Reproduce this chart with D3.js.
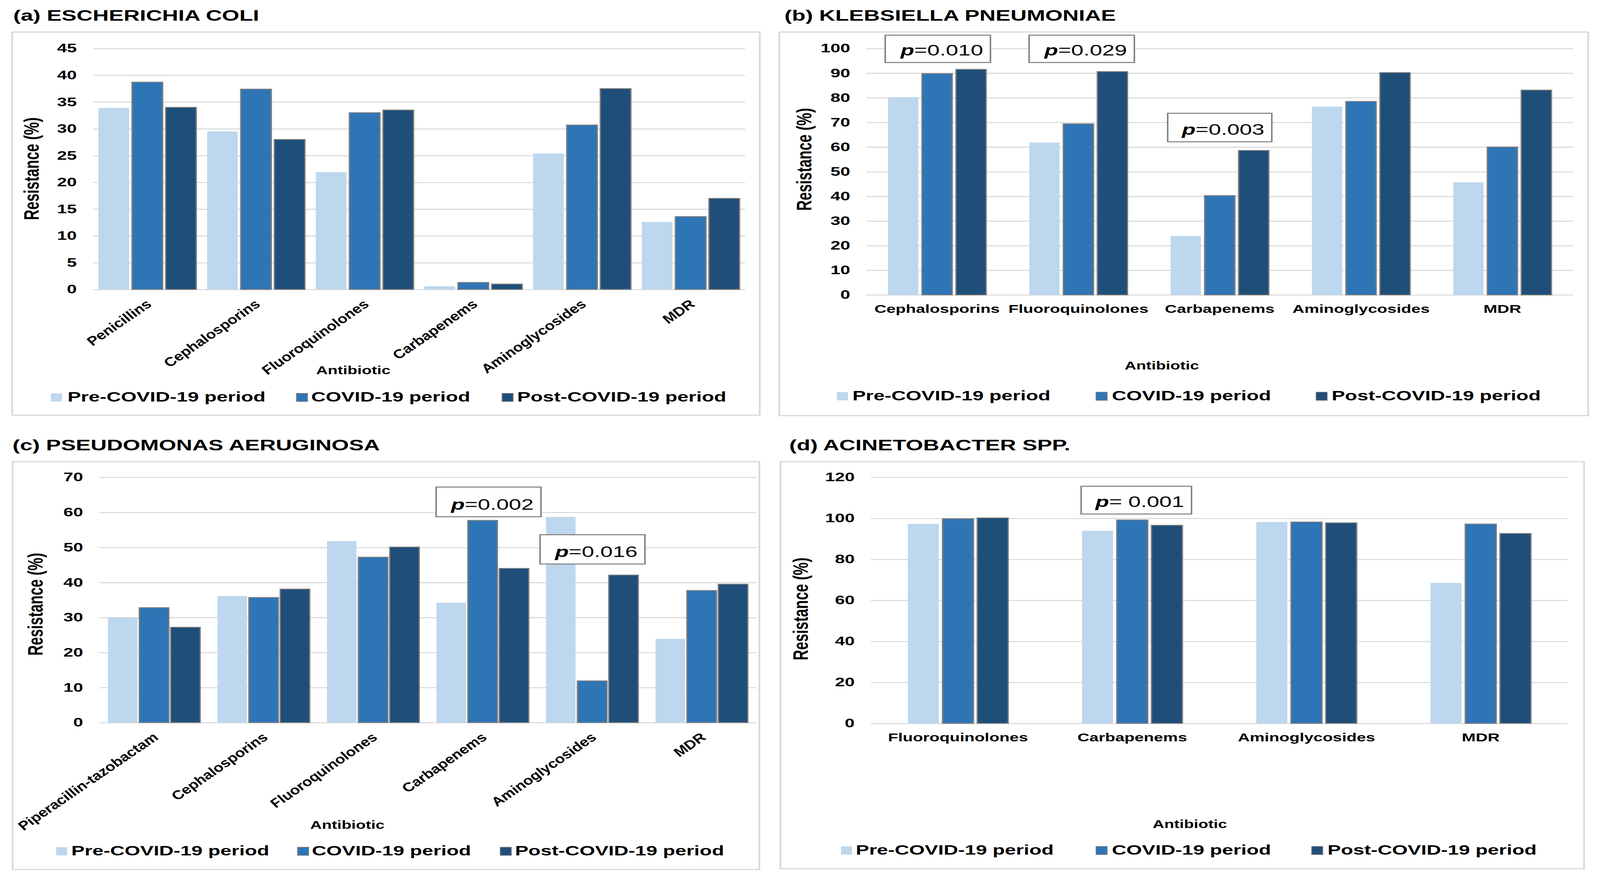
<!DOCTYPE html>
<html>
<head>
<meta charset="utf-8">
<script src="https://cdn.jsdelivr.net/npm/d3@7"></script>
<style>
html,body{margin:0;padding:0;background:#ffffff;width:100%;height:100%;overflow:hidden;}
svg{display:block;width:100vw;height:100vh;}
text{font-family:"Liberation Sans",Arial,Helvetica,sans-serif;}
</style>
</head>
<body>
<svg id="chart" viewBox="0 0 4334 2253" preserveAspectRatio="none"></svg>
<script>
// ---------------- DATA ----------------
const seriesNames = ["Pre-COVID-19 period", "COVID-19 period", "Post-COVID-19 period"];
const seriesColors = ["#bdd7ee", "#2e75b6", "#1f4e79"];

// (a) Escherichia coli
const ecoliCategories = ["Penicillins", "Cephalosporins", "Fluoroquinolones", "Carbapenems", "Aminoglycosides", "MDR"];
const ecoliPre   = [33.9, 29.5, 21.9, 0.6, 25.4, 12.6];
const ecoliCovid = [38.7, 37.4, 33.0, 1.3, 30.7, 13.6];
const ecoliPost  = [34.0, 28.0, 33.5, 1.0, 37.5, 17.0];
const ecoliTicks = [0, 5, 10, 15, 20, 25, 30, 35, 40, 45];

// (b) Klebsiella pneumoniae
const kpCategories = ["Cephalosporins", "Fluoroquinolones", "Carbapenems", "Aminoglycosides", "MDR"];
const kpPre   = [80.2, 61.8, 23.9, 76.4, 45.7];
const kpCovid = [89.8, 69.4, 40.3, 78.5, 60.0];
const kpPost  = [91.5, 90.6, 58.6, 90.2, 83.1];
const kpTicks = [0, 10, 20, 30, 40, 50, 60, 70, 80, 90, 100];
const kpPValues = [
  {category: "Cephalosporins", p: "0.010"},
  {category: "Fluoroquinolones", p: "0.029"},
  {category: "Carbapenems", p: "0.003"}
];

// (c) Pseudomonas aeruginosa
const paCategories = ["Piperacillin-tazobactam", "Cephalosporins", "Fluoroquinolones", "Carbapenems", "Aminoglycosides", "MDR"];
const paPre   = [29.9, 36.1, 51.8, 34.2, 58.7, 23.9];
const paCovid = [32.8, 35.7, 47.2, 57.7, 11.9, 37.7];
const paPost  = [27.2, 38.1, 50.1, 44.0, 42.1, 39.5];
const paTicks = [0, 10, 20, 30, 40, 50, 60, 70];
const paPValues = [
  {category: "Carbapenems", p: "0.002"},
  {category: "Aminoglycosides", p: "0.016"}
];

// (d) Acinetobacter spp.
const abCategories = ["Fluoroquinolones", "Carbapenems", "Aminoglycosides", "MDR"];
const abPre   = [97.3, 93.9, 98.2, 68.5];
const abCovid = [99.8, 99.2, 98.2, 97.2];
const abPost  = [100.2, 96.6, 97.8, 92.6];
const abTicks = [0, 20, 40, 60, 80, 100, 120];
const abPValues = [
  {category: "Carbapenems", p: " 0.001"}
];

// ---------------- LAYOUT (pixels of the final picture) ----------------
const SX = 1.55;               // the figure is stretched horizontally
const X = v => v / SX;

const panels = [
  {
    title: "(a) ESCHERICHIA COLI", titleX: 36, titleY: 53,
    frame: [33, 82, 2058, 1063],
    categories: ecoliCategories, series: [ecoliPre, ecoliCovid, ecoliPost], ticks: ecoliTicks,
    plotX: [252, 2018], y0: 741, yTop: 124,
    barW: 83, barGap: 8, rotated: true,
    yTitle: [85, 432], xTitle: [957, 958],
    legendY: 1028, swatchX: [138, 803, 1360], legendTextX: [183, 843, 1401],
    pvalues: [], pLayout: []
  },
  {
    title: "(b) KLEBSIELLA PNEUMONIAE", titleX: 2125, titleY: 53,
    frame: [2111, 82, 4302, 1064],
    categories: kpCategories, series: [kpPre, kpCovid, kpPost], ticks: kpTicks,
    plotX: [2347, 4261], y0: 755, yTop: 124,
    barW: 82, barGap: 10, rotated: false,
    yTitle: [2178, 408], xTitle: [3147, 946],
    legendY: 1025, swatchX: [2267, 2969, 3565], legendTextX: [2309, 3012, 3607],
    pvalues: kpPValues,
    pLayout: [{dx: 2, top: 90, w: 285, h: 70}, {dx: 9, top: 90, w: 285, h: 70}, {dx: 0, top: 290, w: 282, h: 73}]
  },
  {
    title: "(c) PSEUDOMONAS AERUGINOSA", titleX: 34, titleY: 1153,
    frame: [34, 1182, 2057, 2226],
    categories: paCategories, series: [paPre, paCovid, paPost], ticks: paTicks,
    plotX: [269, 2049], y0: 1850, yTop: 1222,
    barW: 80, barGap: 5, rotated: true,
    yTitle: [96, 1547], xTitle: [941, 2122],
    legendY: 2190, swatchX: [152, 806, 1355], legendTextX: [193, 845, 1395],
    pvalues: paPValues,
    pLayout: [{dx: 16, top: 1247, w: 284, h: 76}, {dx: 1, top: 1369, w: 284, h: 75}]
  },
  {
    title: "(d) ACINETOBACTER SPP.", titleX: 2138, titleY: 1153,
    frame: [2114, 1182, 4291, 2224],
    categories: abCategories, series: [abPre, abCovid, abPost], ticks: abTicks,
    plotX: [2359, 4247], y0: 1852, yTop: 1222,
    barW: 84, barGap: 10, rotated: false,
    yTitle: [2168, 1559], xTitle: [3223, 2120],
    legendY: 2188, swatchX: [2278, 2969, 3553], legendTextX: [2318, 3012, 3596],
    pvalues: abPValues,
    pLayout: [{dx: 11, top: 1245, w: 299, h: 71}]
  }
];

// ---------------- DRAW ----------------
const svg = d3.select("#chart");
svg.append("rect").attr("width", 4334).attr("height", 2253).attr("fill", "#ffffff");
const root = svg.append("g").attr("transform", `scale(${SX},1)`);

panels.forEach(p => {
  const g = root.append("g");
  const [fx0, fy0, fx1, fy1] = p.frame;

  // frame
  g.append("rect")
    .attr("x", X(fx0)).attr("y", fy0)
    .attr("width", X(fx1 - fx0)).attr("height", fy1 - fy0)
    .attr("fill", "#ffffff").attr("stroke", "#d9d9d9").attr("stroke-width", 3);

  // title
  g.append("text")
    .attr("x", X(p.titleX)).attr("y", p.titleY)
    .attr("font-size", 39).attr("font-weight", "bold").attr("fill", "#000")
    .text(p.title);

  // scales
  const maxTick = d3.max(p.ticks);
  const y = d3.scaleLinear().domain([0, maxTick]).range([p.y0, p.yTop]);
  const x = d3.scaleBand().domain(p.categories).range([X(p.plotX[0]), X(p.plotX[1])]).padding(0);
  const groupW = 3 * p.barW + 2 * p.barGap;
  const inner = d3.scaleBand().domain(d3.range(3))
    .range([-X(groupW) / 2, X(groupW) / 2])
    .paddingInner(p.barGap / (p.barW + p.barGap)).paddingOuter(0);

  // gridlines + y tick labels
  const yAxis = d3.axisLeft(y).tickValues(p.ticks).tickFormat(d3.format("d"))
    .tickSize(-(X(p.plotX[1]) - X(p.plotX[0]))).tickPadding(X(44));
  const ag = g.append("g").attr("transform", `translate(${X(p.plotX[0])},0)`).call(yAxis);
  ag.select(".domain").remove();
  ag.selectAll(".tick line").attr("stroke", "#d9d9d9").attr("stroke-width", 2.6);
  ag.selectAll(".tick text").attr("font-size", 31).attr("font-weight", "bold")
    .attr("fill", "#000").attr("font-family", "'Liberation Sans',Arial,sans-serif");

  // bars
  p.series.forEach((vals, si) => {
    g.append("g").selectAll("rect").data(p.categories.map((c, i) => ({c, v: vals[i]})))
      .join("rect")
      .attr("x", d => x(d.c) + x.bandwidth() / 2 + inner(si))
      .attr("y", d => y(d.v))
      .attr("width", inner.bandwidth())
      .attr("height", d => y(0) - y(d.v))
      .attr("fill", seriesColors[si])
      .attr("stroke", si === 0 ? "none" : "#7f7f7f")
      .attr("stroke-width", si === 0 ? 0 : 2.2);
  });

  // category labels
  const lg = g.append("g");
  p.categories.forEach(c => {
    const cx = x(c) + x.bandwidth() / 2;
    if (p.rotated) {
      lg.append("text")
        .attr("transform", `translate(${cx + 10},${p.y0 + 40}) rotate(-45)`)
        .attr("text-anchor", "end")
        .attr("font-size", 30).attr("font-weight", "bold").attr("font-style", "italic")
        .attr("fill", "#000").text(c);
    } else {
      lg.append("text")
        .attr("x", cx).attr("y", p.y0 + 46)
        .attr("text-anchor", "middle")
        .attr("font-size", 29).attr("font-weight", "bold")
        .attr("fill", "#000").text(c);
    }
  });

  // axis titles
  g.append("text")
    .attr("transform", `translate(${X(p.yTitle[0])},${p.yTitle[1]}) rotate(-90)`)
    .attr("text-anchor", "middle").attr("dominant-baseline", "central")
    .attr("font-size", 37).attr("font-weight", "bold").attr("fill", "#000")
    .text("Resistance (%)");
  g.append("text")
    .attr("x", X(p.xTitle[0]) - 65).attr("y", p.xTitle[1])
    .attr("textLength", 130).attr("lengthAdjust", "spacingAndGlyphs")
    .attr("font-size", 29).attr("font-weight", "bold").attr("fill", "#000")
    .text("Antibiotic");

  // legend
  seriesNames.forEach((name, si) => {
    g.append("rect")
      .attr("x", X(p.swatchX[si])).attr("y", p.legendY - 21)
      .attr("width", X(30)).attr("height", 21)
      .attr("fill", seriesColors[si])
      .attr("stroke", si === 0 ? "none" : "#7f7f7f").attr("stroke-width", si === 0 ? 0 : 1.5);
    g.append("text")
      .attr("x", X(p.legendTextX[si])).attr("y", p.legendY)
      .attr("font-size", 35).attr("font-weight", "bold").attr("fill", "#000")
      .text(name);
  });

  // p-value boxes
  p.pvalues.forEach((pv, k) => {
    const L = p.pLayout[k];
    const cx = x(pv.category) + x.bandwidth() / 2 + X(L.dx);
    g.append("rect")
      .attr("x", cx - X(L.w) / 2).attr("y", L.top)
      .attr("width", X(L.w)).attr("height", L.h)
      .attr("fill", "#ffffff").attr("stroke", "#7f7f7f").attr("stroke-width", 2.6);
    const t = g.append("text")
      .attr("x", cx + X(L.w) / 2 - X(20)).attr("y", L.top + L.h - 18)
      .attr("text-anchor", "end").attr("font-size", 39).attr("fill", "#000");
    t.append("tspan").attr("font-weight", "bold").attr("font-style", "italic").text("p");
    t.append("tspan").text("=" + pv.p);
  });
});
</script>
</body>
</html>
